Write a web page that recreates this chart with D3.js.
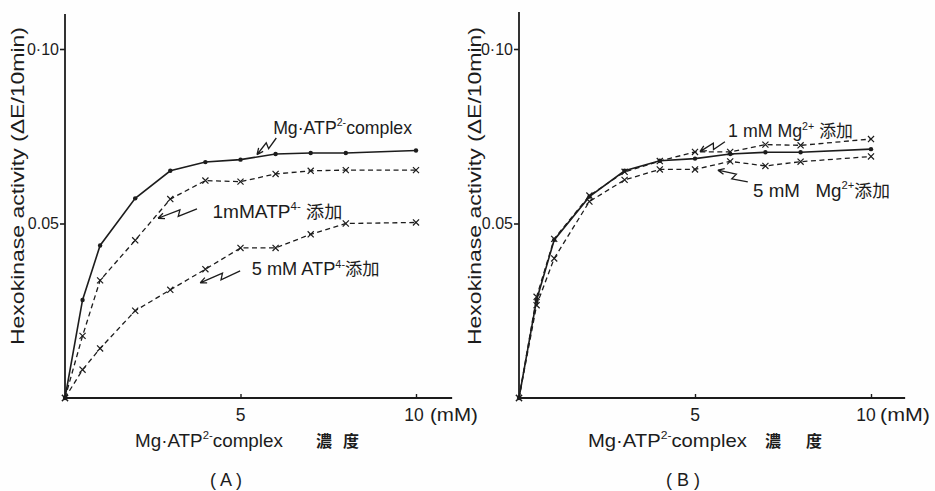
<!DOCTYPE html>
<html><head><meta charset="utf-8">
<script src="https://cdn.jsdelivr.net/npm/d3@7"></script>
<style>body{margin:0;background:#fff}</style>
</head><body><svg id="c" width="935" height="491"></svg>
<script>
// ---- data ----
const conc = [0, 0.5, 1, 2, 3, 4, 5, 6, 7, 8, 10];           // mM
const aComplex = [0, 0.0281, 0.0437, 0.0572, 0.0651, 0.0676, 0.0683, 0.0699, 0.0702, 0.0702, 0.0709];
const aAtp1    = [0, 0.0178, 0.0337, 0.0452, 0.0570, 0.0623, 0.0620, 0.0642, 0.0651, 0.0653, 0.0653];
const aAtp5    = [0, 0.0081, 0.0142, 0.0250, 0.0310, 0.0369, 0.0430, 0.0430, 0.0469, 0.0500, 0.0503];
const bComplex = [0, 0.0281, 0.0453, 0.0577, 0.0651, 0.0680, 0.0686, 0.0699, 0.0704, 0.0704, 0.0713];
const bMg1     = [0, 0.0290, 0.0456, 0.0580, 0.0648, 0.0679, 0.0705, 0.0705, 0.0726, 0.0724, 0.0742];
const bMg5     = [0, 0.0266, 0.0400, 0.0563, 0.0625, 0.0655, 0.0655, 0.0678, 0.0665, 0.0677, 0.0692];
const xTicks = [5, 10];
const xTickLabels = ["5", "10"];
const yTicks = [0.05, 0.10];
const yTickLabels = ["0.05", "0·10"];
const panelLabels = ["( A )", "( B )"];
const yTitle = "Hexokinase  activity (ΔE/10min)";

// ---- layout / style ----
const W = 935, H = 491;
const INK = "#1c1c1c";
const LAT = "'Liberation Sans', Arial, sans-serif";
const CJK = "'Noto Sans CJK JP', 'Noto Sans CJK SC', sans-serif";
const svg = d3.select("#c");
svg.append("rect").attr("width", W).attr("height", H).attr("fill", "#fefefe");

function richText(g, x, y, parts, size, anchor) {
  const t = g.append("text").attr("x", x).attr("y", y)
    .attr("font-size", size).attr("fill", INK).attr("font-family", LAT)
    .attr("text-anchor", anchor || "start");
  let shifted = false;
  parts.forEach(([s, kind]) => {
    const sp = t.append("tspan").text(s);
    if (kind === "sup") {
      sp.attr("font-size", size * 0.6).attr("dy", -size * 0.42);
      shifted = true;
    } else {
      if (shifted) { sp.attr("dy", size * 0.42); shifted = false; }
      if (kind === "cjk") sp.attr("font-family", CJK).attr("font-size", size * 0.95);
    }
  });
  return t;
}
function fitWidth(t, x0, target) {
  const w = t.node().getBBox().width;
  if (w > 0) t.attr("transform", `translate(${x0},0) scale(${target / w},1) translate(${-x0},0)`);
}
function zigArrow(g, tail, head) {
  const dx = head[0] - tail[0], dy = head[1] - tail[1];
  const L = Math.hypot(dx, dy), ux = dx / L, uy = dy / L, nx = -uy, ny = ux;
  const p1 = [tail[0] + ux * L * 0.5 - nx * 3, tail[1] + uy * L * 0.5 - ny * 3];
  const p2 = [tail[0] + ux * L * 0.42 + nx * 3, tail[1] + uy * L * 0.42 + ny * 3];
  const p = d3.path();
  p.moveTo(...tail); p.lineTo(...p1); p.lineTo(...p2); p.lineTo(...head);
  const ax = head[0] - p2[0], ay = head[1] - p2[1], al = Math.hypot(ax, ay);
  const bx = ax / al, by = ay / al, hl = 7, a = 0.42;
  [a, -a].forEach(r => {
    const c = Math.cos(r), s = Math.sin(r);
    const vx = -(bx * c - by * s), vy = -(bx * s + by * c);
    p.moveTo(...head); p.lineTo(head[0] + vx * hl, head[1] + vy * hl);
  });
  g.append("path").attr("d", p.toString()).attr("fill", "none")
    .attr("stroke", INK).attr("stroke-width", 1.3);
}

const panels = [
  { xr: [65, 416], yr: [398, 49], yTop: 0.110, xEnd: 11.03, ylabX: 18,
    series: [[aComplex, "solid"], [aAtp1, "dash"], [aAtp5, "dash"]],
    mmOff: 14, mmW: 48, tenOff: -2,
    title: { x0: 135, w: 148, c1: 324, c2: 351 }, plab: 226,
    notes: [
      { parts: [["Mg·ATP"], ["2-", "sup"], ["complex"]], at: [5.93, 0.0757], w: 139, tail: [6.02, 0.0745], head: [5.47, 0.0697] },
      { parts: [["1mMATP"], ["4-", "sup"], [" "], ["添加", "cjk"]], at: [4.2, 0.0516], w: 130, tail: [3.76, 0.0542], head: [2.65, 0.0515] },
      { parts: [["5 mM ATP"], ["4-", "sup"], ["添加", "cjk"]], at: [5.32, 0.0352], w: 128, tail: [4.99, 0.0364], head: [3.85, 0.0330] }
    ] },
  { xr: [519, 871], yr: [398, 49], yTop: 0.1106, xEnd: 10.97, ylabX: 475,
    series: [[bComplex, "solid"], [bMg1, "dash"], [bMg5, "dash"]],
    mmOff: 9, mmW: 50, tenOff: -5,
    title: { x0: 588, w: 159, c1: 773, c2: 814 }, plab: 683,
    notes: [
      { parts: [["1 mM Mg"], ["2+", "sup"], [" "], ["添加", "cjk"]], at: [5.94, 0.0747], w: 125, tail: [5.85, 0.0734], head: [5.14, 0.0706] },
      { parts: [["5 mM   Mg"], ["2+", "sup"], ["添加", "cjk"]], at: [6.65, 0.0576], w: 137, tail: [6.5, 0.0619], head: [5.65, 0.0653] }
    ] }
];

panels.forEach((P, pi) => {
  const x = d3.scaleLinear().domain([0, 10]).range(P.xr);
  const y = d3.scaleLinear().domain([0, 0.10]).range(P.yr);
  const g = svg.append("g");

  // axes lines
  g.append("line").attr("x1", x(0)).attr("x2", x(0)).attr("y1", y(0)).attr("y2", y(P.yTop))
    .attr("stroke", INK).attr("stroke-width", 1.8);
  g.append("line").attr("x1", x(0)).attr("x2", x(P.xEnd)).attr("y1", y(0)).attr("y2", y(0))
    .attr("stroke", INK).attr("stroke-width", 1.8);

  const ya = g.append("g").attr("transform", `translate(${x(0)},0)`)
    .call(d3.axisLeft(y).tickValues(yTicks).tickSize(5).tickPadding(1)
      .tickFormat((d, i) => yTickLabels[i]));
  ya.select(".domain").remove();
  ya.selectAll("line").attr("stroke", INK).attr("stroke-width", 1.6);
  ya.selectAll("text").attr("font-size", 16).attr("font-family", LAT).attr("fill", INK);

  const xa = g.append("g").attr("transform", `translate(0,${y(0)})`)
    .call(d3.axisBottom(x).tickValues(xTicks).tickSize(-4).tickFormat(() => ""));
  xa.select(".domain").remove();
  xa.selectAll("line").attr("stroke", INK).attr("stroke-width", 1.4);

  xTicks.forEach((v, i) => {
    g.append("text").attr("x", x(v) + (v === 10 ? P.tenOff : 0)).attr("y", y(0) + 23)
      .attr("text-anchor", "middle").attr("font-size", 17.5).attr("font-family", LAT)
      .attr("fill", INK).text(xTickLabels[i]);
  });
  const mm = g.append("text").attr("x", x(10) + P.mmOff).attr("y", y(0) + 23)
    .attr("font-size", 17.5).attr("font-family", LAT).attr("fill", INK).text("(mM)");
  fitWidth(mm, x(10) + P.mmOff, P.mmW);

  // y title
  g.append("text").attr("font-size", 18).attr("font-family", LAT).attr("fill", INK)
    .attr("text-anchor", "middle")
    .attr("transform", `translate(${P.ylabX + 6},${(27 + 345) / 2}) rotate(-90)`)
    .attr("textLength", 318).attr("lengthAdjust", "spacingAndGlyphs").text(yTitle);

  // x title
  const xt = richText(g, P.title.x0, 447, [["Mg·ATP"], ["2-", "sup"], ["complex"]], 18);
  fitWidth(xt, P.title.x0, P.title.w);
  [[P.title.c1, "濃"], [P.title.c2, "度"]].forEach(([cx, ch]) => {
    g.append("text").attr("x", cx).attr("y", 447).attr("text-anchor", "middle")
      .attr("font-size", 16).attr("font-weight", 700).attr("font-family", CJK).attr("fill", INK).text(ch);
  });
  g.append("text").attr("x", P.plab).attr("y", 486).attr("text-anchor", "middle")
    .attr("font-size", 18).attr("font-family", LAT).attr("fill", INK)
    .attr("xml:space", "preserve").style("white-space", "pre").text(panelLabels[pi]);

  // series
  const line = d3.line().x((d, i) => x(conc[i])).y(d => y(d));
  P.series.forEach(([vals, kind]) => {
    g.append("path").datum(vals).attr("d", line).attr("fill", "none")
      .attr("stroke", INK).attr("stroke-width", kind === "solid" ? 1.6 : 1.3)
      .attr("stroke-dasharray", kind === "solid" ? null : "5,3.5");
    if (kind === "solid") {
      g.selectAll(null).data(vals).join("circle")
        .attr("cx", (d, i) => x(conc[i])).attr("cy", d => y(d)).attr("r", 2.2).attr("fill", INK);
    } else {
      g.selectAll(null).data(vals).join("path")
        .attr("transform", (d, i) => `translate(${x(conc[i])},${y(d)})`)
        .attr("d", d3.symbol(d3.symbolTimes, 26)).attr("fill", "none")
        .attr("stroke", INK).attr("stroke-width", 1.2);
    }
  });

  // annotations
  P.notes.forEach(n => {
    const tx = x(n.at[0]), ty = y(n.at[1]);
    const t = richText(g, tx, ty, n.parts, 18);
    t.attr("xml:space", "preserve").style("white-space", "pre");
    fitWidth(t, tx, n.w);
    zigArrow(g, [x(n.tail[0]), y(n.tail[1])], [x(n.head[0]), y(n.head[1])]);
  });
});
</script></body></html>
